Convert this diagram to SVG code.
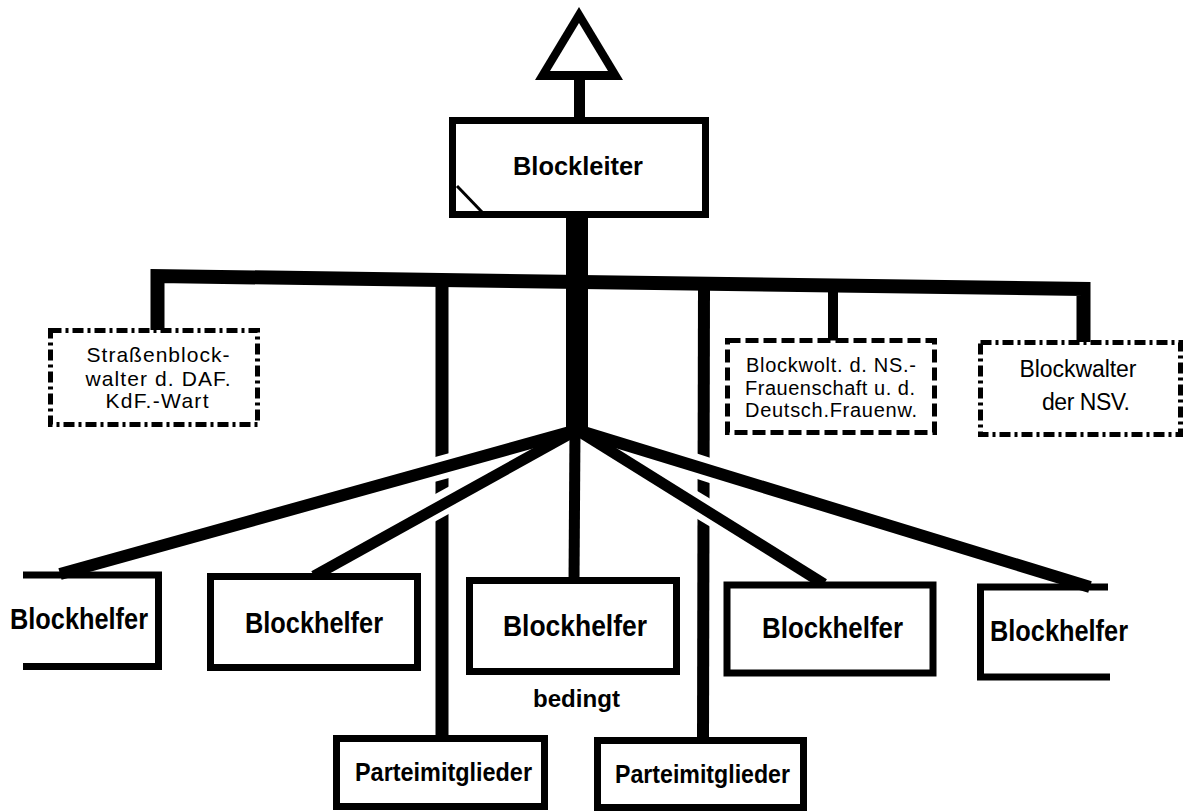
<svg xmlns="http://www.w3.org/2000/svg" width="1184" height="812" viewBox="0 0 1184 812">
<style>
.box{fill:#fff;stroke:#000;stroke-width:7}
.open{fill:none;stroke:#000;stroke-width:7;stroke-linecap:butt}
.dd{fill:#fff;stroke:#000;stroke-width:5;stroke-dasharray:11 4 3 4}
.da{fill:#fff;stroke:#000;stroke-width:5;stroke-dasharray:13 5}
.c{fill:none;stroke:#000;stroke-linecap:butt}
.h{fill:none;stroke:#fff;stroke-width:24;stroke-linecap:butt}
.big{font-family:"Liberation Sans",Arial,sans-serif;font-weight:bold;text-anchor:middle;fill:#000}
.sm{font-family:"Liberation Sans",Arial,sans-serif;text-anchor:middle;fill:#000}
</style>
<rect width="1184" height="812" fill="#fff"/>
<g id="connectors">
  <line class="c" x1="579.5" y1="76" x2="579.5" y2="120" stroke-width="11"/>
  <polyline class="c" points="157.5,330 157.5,276 1083.5,289 1083.5,342" stroke-width="14" stroke-linejoin="miter"/>
  <line class="c" x1="833" y1="288" x2="833" y2="341" stroke-width="10"/>
  <line class="c" x1="577" y1="216" x2="577" y2="434" stroke-width="22"/>
  <line class="c" x1="442" y1="283" x2="442" y2="738" stroke-width="13"/>
  <line class="c" x1="704" y1="286" x2="703" y2="740" stroke-width="12"/>
  <line class="h" x1="462" y1="462" x2="422" y2="473"/>
  <line class="h" x1="462" y1="493" x2="422" y2="515"/>
  <line class="h" x1="684" y1="497" x2="724" y2="521"/>
  <line class="h" x1="684" y1="462" x2="724" y2="475"/>
  <line class="c" x1="577" y1="430" x2="60" y2="574" stroke-width="12"/>
  <line class="c" x1="577" y1="430" x2="314" y2="576" stroke-width="11"/>
  <line class="c" x1="575" y1="430" x2="574" y2="582" stroke-width="11"/>
  <line class="c" x1="577" y1="430" x2="824" y2="584" stroke-width="11"/>
  <line class="c" x1="577" y1="430" x2="1090" y2="587" stroke-width="12"/>
</g>
<g id="apex">
  <polygon points="579,7 535,80 623,80" fill="#000"/>
  <polygon points="579,23 550,71 608,71" fill="#fff"/>
</g>
<g id="blockleiter">
  <rect class="box" x="452.5" y="120.5" width="253" height="94"/>
  <line x1="457" y1="186" x2="482" y2="212" stroke="#000" stroke-width="3"/>
  <text class="big" x="578" y="175" font-size="26" textLength="130" lengthAdjust="spacingAndGlyphs">Blockleiter</text>
</g>
<g id="strassenblockwalter">
  <rect class="dd" x="50.5" y="330.5" width="207" height="94"/>
  <text class="sm" x="158" y="362" font-size="21" textLength="143">Straßenblock-</text>
  <text class="sm" x="158" y="386" font-size="21" textLength="145">walter d. DAF.</text>
  <text class="sm" x="157" y="408" font-size="21" textLength="103">KdF.-Wart</text>
</g>
<g id="frauenschaft">
  <rect class="da" x="727.5" y="340.5" width="207" height="92"/>
  <text class="sm" x="831" y="372" font-size="20" textLength="170">Blockwolt. d. NS.-</text>
  <text class="sm" x="830" y="395" font-size="20" textLength="170">Frauenschaft u. d.</text>
  <text class="sm" x="831" y="417" font-size="20" textLength="172">Deutsch.Frauenw.</text>
</g>
<g id="nsv">
  <rect class="dd" x="980.5" y="342.5" width="200" height="92"/>
  <text class="sm" x="1078" y="377" font-size="23" textLength="117">Blockwalter</text>
  <text class="sm" x="1086" y="410" font-size="23" textLength="88">der NSV.</text>
</g>
<g id="blockhelfer1">
  <path class="open" d="M23,575 H158.5 V666.5 H23"/>
  <text class="big" x="79" y="629" font-size="29" textLength="138" lengthAdjust="spacingAndGlyphs">Blockhelfer</text>
</g>
<g id="blockhelfer2">
  <rect class="box" x="210.5" y="576.5" width="207" height="91"/>
  <text class="big" x="314" y="633" font-size="29" textLength="138" lengthAdjust="spacingAndGlyphs">Blockhelfer</text>
</g>
<g id="blockhelfer3">
  <rect class="box" x="469.5" y="580.5" width="207" height="91"/>
  <text class="big" x="575" y="636" font-size="29" textLength="144" lengthAdjust="spacingAndGlyphs">Blockhelfer</text>
</g>
<g id="bedingt">
  <text class="big" x="576.5" y="707" font-size="24" textLength="87" lengthAdjust="spacingAndGlyphs">bedingt</text>
</g>
<g id="blockhelfer4">
  <rect class="box" x="727" y="585" width="206" height="88" stroke-width="8"/>
  <text class="big" x="832.5" y="638" font-size="29" textLength="141" lengthAdjust="spacingAndGlyphs">Blockhelfer</text>
</g>
<g id="blockhelfer5">
  <path class="open" d="M1108,587 H980.5 V677 H1110"/>
  <text class="big" x="1059" y="641" font-size="29" textLength="138" lengthAdjust="spacingAndGlyphs">Blockhelfer</text>
</g>
<g id="parteimitglieder1">
  <rect class="box" x="336.5" y="738.5" width="208" height="68"/>
  <text class="big" x="443.5" y="781" font-size="25" textLength="177" lengthAdjust="spacingAndGlyphs">Parteimitglieder</text>
</g>
<g id="parteimitglieder2">
  <rect class="box" x="597.5" y="740.5" width="206" height="67"/>
  <text class="big" x="702.5" y="783" font-size="25" textLength="175" lengthAdjust="spacingAndGlyphs">Parteimitglieder</text>
</g>
</svg>
